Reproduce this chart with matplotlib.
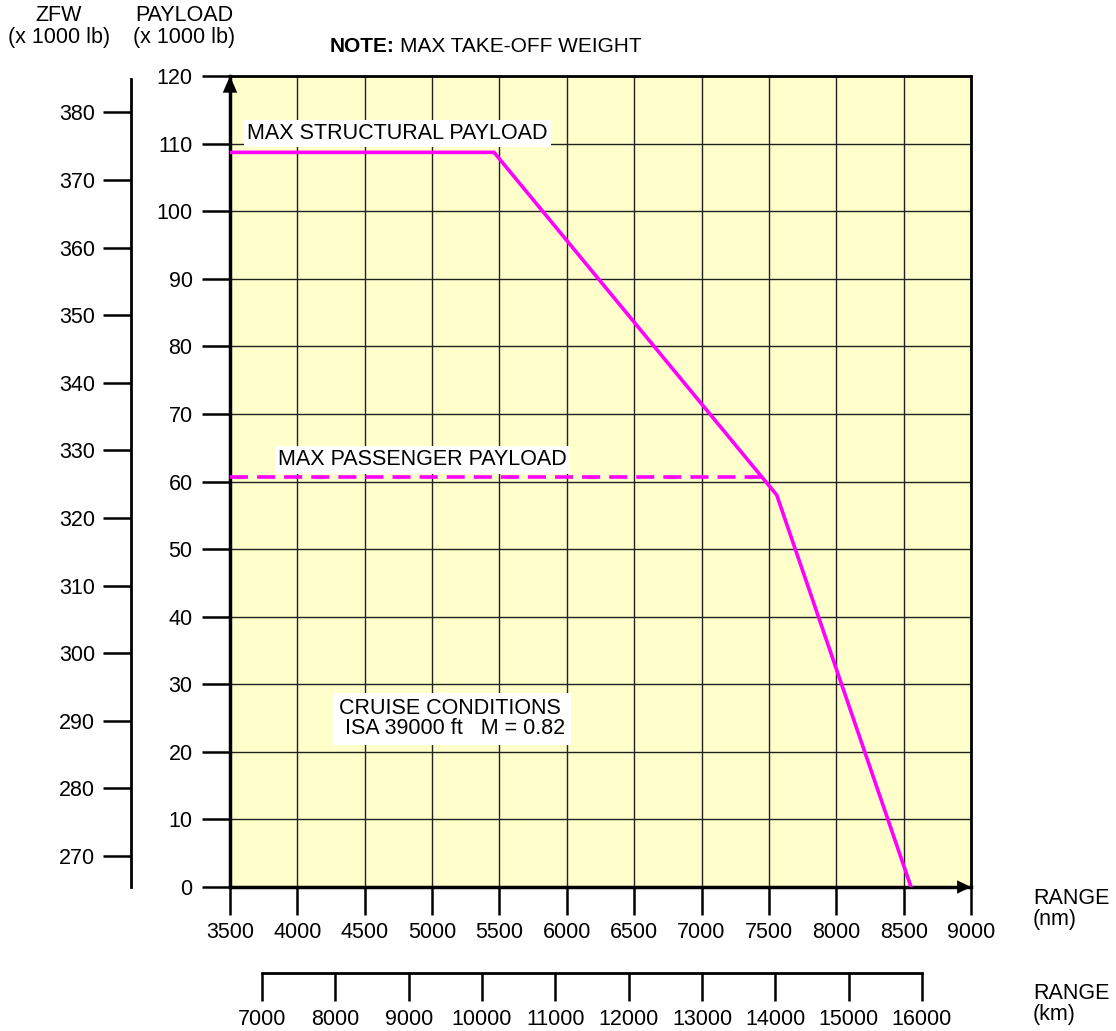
import numpy as np
from matplotlib import pyplot as plt

# axis scales
nm_ticks = np.arange(3500, 9001, 500)
payload_ticks = np.arange(0, 121, 10)
zfw_ticks = np.arange(270, 381, 10)
km_ticks = np.arange(7000, 16001, 1000)

# payload-range curve (x 1000 lb vs nm)
struct_range = [3500, 5460, 7558, 8555]
struct_payload = [108.7, 108.7, 58.0, 0.0]
pax_range = [3500, 7446]
pax_payload = [60.7, 60.7]

W, H = 1116, 1031
plt.rcParams['font.family'] = ['Liberation Sans', 'DejaVu Sans']
fs = 15.5
magenta = '#ff00ff'
yellow = '#ffffcc'

fig = plt.figure(figsize=(W/100, H/100), dpi=100)

def fx(px):
    return px/W

def fy(py):
    return 1 - py/H

# main chart
ax = fig.add_axes([fx(230), fy(887), fx(971) - fx(230), fy(76) - fy(887)])
ax.set_facecolor(yellow)
ax.set_xlim(3500, 9000)
ax.set_ylim(0, 120)
ax.set_xticks(nm_ticks)
ax.set_yticks(payload_ticks)
ax.grid(True, color='#222222', lw=1.0, zorder=1)
ax.set_axisbelow(True)
ax.tick_params(axis='both', direction='out', length=20, width=1.8, labelsize=fs, color='k')
ax.tick_params(axis='y', pad=7)
ax.tick_params(axis='x', pad=5)
ax.spines['left'].set_linewidth(2.5)
ax.spines['bottom'].set_linewidth(2.5)
ax.spines['top'].set_linewidth(2)
ax.spines['right'].set_linewidth(2)

ax.plot(struct_range, struct_payload, color=magenta, lw=2.6, zorder=4, solid_joinstyle='miter')
ax.plot(pax_range, pax_payload, color=magenta, lw=2.6, ls=(0, (5, 2.5)), zorder=4)

# arrows on axes
ax.annotate('', xy=(3500, 120), xytext=(3500, 114),
            arrowprops=dict(arrowstyle='-|>,head_length=0.6,head_width=0.26', color='k', lw=0,
                            mutation_scale=20, shrinkA=0, shrinkB=0), zorder=5)
ax.annotate('', xy=(9000, 0), xytext=(8850, 0),
            arrowprops=dict(arrowstyle='-|>,head_length=0.5,head_width=0.24', color='k', lw=0,
                            mutation_scale=20, shrinkA=0, shrinkB=0), zorder=5)

box = dict(facecolor='white', edgecolor='none', pad=2.5)
ax.text(3626, 111.5, 'MAX STRUCTURAL PAYLOAD', fontsize=fs, va='center', ha='left', bbox=box, zorder=6)
ax.text(3856, 63.2, 'MAX PASSENGER PAYLOAD', fontsize=fs, va='center', ha='left', bbox=box, zorder=6)
ax.text(4309, 24.9, 'CRUISE CONDITIONS\n ISA 39000 ft   M = 0.82', fontsize=fs, va='center', ha='left',
        linespacing=0.95, bbox=dict(facecolor='white', edgecolor='none', pad=4), zorder=6)

# ZFW scale
az = fig.add_axes([fx(131), fy(887), 0.0001, fy(76) - fy(887)])
az.set_ylim(265.4, 385.4)
az.set_yticks(zfw_ticks)
az.set_xticks([])
for s in ['top', 'right', 'bottom']:
    az.spines[s].set_visible(False)
az.spines['left'].set_linewidth(2)
az.spines['left'].set_bounds(265.4, 385.0)
az.tick_params(axis='y', direction='out', length=20, width=1.8, labelsize=fs, pad=6)
az.patch.set_visible(False)

# km scale
ak = fig.add_axes([fx(262), fy(973), fx(922) - fx(262), 0.0001])
ak.set_xlim(7000, 16000)
ak.set_xticks(km_ticks)
ak.set_yticks([])
for s in ['top', 'right', 'left']:
    ak.spines[s].set_visible(False)
ak.spines['bottom'].set_linewidth(2)
ak.tick_params(axis='x', direction='out', length=20, width=1.8, labelsize=fs, pad=6)
ak.patch.set_visible(False)

# titles
fig.text(fx(59), fy(5), 'ZFW\n(x 1000 lb)', fontsize=fs, ha='center', va='top', linespacing=1.05)
fig.text(fx(184), fy(5), 'PAYLOAD\n(x 1000 lb)', fontsize=fs, ha='center', va='top', linespacing=1.05)
note = fig.text(fx(330), fy(47), 'NOTE:', fontsize=fs - 0.5, fontweight='bold', ha='left', va='center')
ax.annotate('MAX TAKE-OFF WEIGHT', xy=(1, 0.5), xycoords=note, xytext=(4, 0),
            textcoords='offset points', fontsize=fs - 0.5, ha='left', va='center', annotation_clip=False)
fig.text(fx(1033), fy(909), 'RANGE\n(nm)', fontsize=fs, ha='left', va='center', linespacing=1.0)
fig.text(fx(1033), fy(1004), 'RANGE\n(km)', fontsize=fs, ha='left', va='center', linespacing=1.0)

fig.savefig('out.png', dpi=100)
